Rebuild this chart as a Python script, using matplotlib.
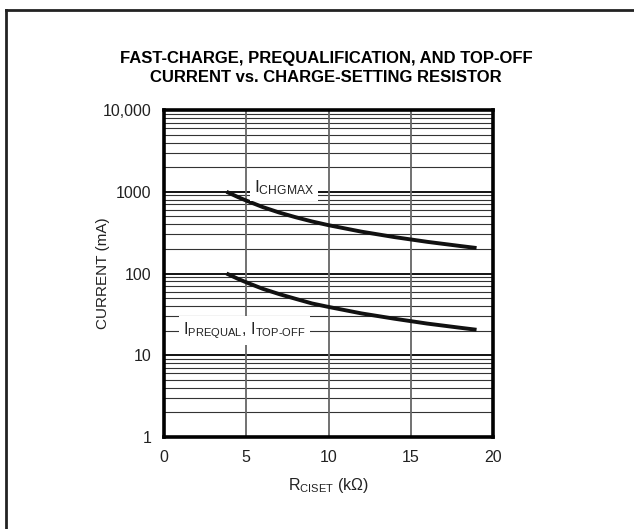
import matplotlib
matplotlib.use("Agg")
import matplotlib.pyplot as plt
from matplotlib.lines import Line2D
from matplotlib.ticker import FixedLocator, NullFormatter

# narrow sans to get near the datasheet look
plt.rcParams['font.family'] = ['Liberation Sans', 'DejaVu Sans']
plt.rcParams['mathtext.fontset'] = 'custom'
plt.rcParams['mathtext.rm'] = 'Liberation Sans'

# resistor values (kOhm)
r_kohm = [3.8, 4.5, 5, 6, 7, 8, 9, 10, 12, 14, 16, 18, 19]
# fast-charge current (mA)
i_chgmax = [1000, 860, 780, 650, 557, 488, 433, 390, 325, 279, 244, 217, 205]
# prequal / top-off current (mA)
i_prequal = [100, 86, 78, 65, 56, 49, 43, 39, 32.5, 28, 24.4, 21.7, 20.5]

x_ticks = [0, 5, 10, 15, 20]
y_ticks = [1, 10, 100, 1000, 10000]
y_ticklabels = ["1", "10", "100", "1000", "10,000"]

fig = plt.figure(figsize=(6.34, 5.29), dpi=100)
ax = fig.add_axes([164/634, 1-437/529, (493-164)/634, (437-110)/529])

ax.set_yscale("log")
ax.set_xlim(0, 20)
ax.set_ylim(1, 10000)

# grid
minor = [m * 10**d for d in range(4) for m in range(2, 10)]
for v in minor:
    ax.axhline(v, color="#333333", lw=0.8, zorder=1)
for v in y_ticks[1:-1]:
    ax.axhline(v, color="black", lw=1.3, zorder=1)
for v in x_ticks[1:-1]:
    ax.axvline(v, color="#666666", lw=1.3, zorder=1)

ax.plot(r_kohm, i_chgmax, color="#111111", lw=2.8, solid_capstyle="butt", zorder=3)
ax.plot(r_kohm, i_prequal, color="#111111", lw=2.8, solid_capstyle="butt", zorder=3)

box = dict(boxstyle="square,pad=0.25", fc="white", ec="none")
ax.text(7.3, 1130, r"$\mathregular{I_{CHGMAX}}$", ha="center", va="center",
        fontsize=12.5, bbox=box, zorder=4, color="#222222")
ax.text(4.9, 20, r"$\mathregular{I_{PREQUAL}}$, $\mathregular{I_{TOP\text{-}OFF}}$",
        ha="center", va="center", fontsize=11.5, bbox=box, zorder=4, color="#222222")

ax.set_xticks(x_ticks)
ax.set_xticklabels([str(t) for t in x_ticks])
ax.yaxis.set_major_locator(FixedLocator(y_ticks))
ax.set_yticklabels(y_ticklabels)
ax.yaxis.set_minor_formatter(NullFormatter())
ax.tick_params(which="both", length=0, labelsize=11.5, pad=9, colors="#222222")

for s in ax.spines.values():
    s.set_linewidth(2.6)
    s.set_color("black")

ax.set_xlabel(r"$\mathregular{R_{CISET}}$ (k$\mathregular{\Omega}$)", fontsize=11.5,
              labelpad=8, color="#222222")
ax.set_ylabel("CURRENT (mA)", fontsize=11, color="#222222")
ax.yaxis.set_label_coords(-0.165, 0.5)

fig.text(0.514, 1-58/529, "FAST-CHARGE, PREQUALIFICATION, AND TOP-OFF",
         ha="center", va="center", fontsize=12, fontweight="bold")
fig.text(0.514, 1-78/529, "CURRENT vs. CHARGE-SETTING RESISTOR",
         ha="center", va="center", fontsize=12, fontweight="bold")

# outer frame (top and left edges)
fig.add_artist(Line2D([6/634, 1], [1-10/529, 1-10/529], color="#222222", lw=2))
fig.add_artist(Line2D([6/634, 6/634], [0, 1-10/529], color="#222222", lw=2))

fig.savefig("out.png", dpi=100)
